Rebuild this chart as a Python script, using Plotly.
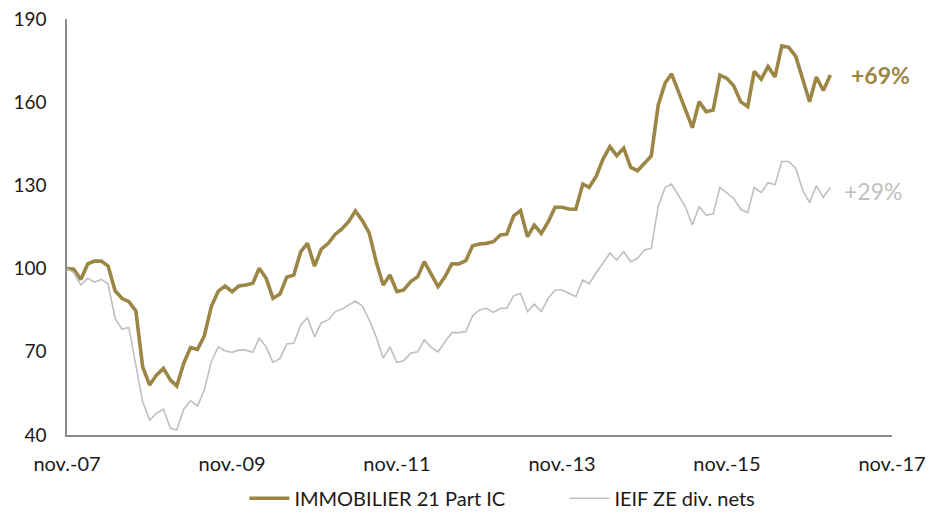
import pandas as pd
import plotly.graph_objects as go

start = "2007-11-01"
gold_name = "IMMOBILIER 21 Part IC"
grey_name = "IEIF ZE div. nets"

gold = [100, 99.8, 96.1, 101.7, 102.7, 102.7, 100.9, 92, 89.3, 88.1,
        84.7, 64.6, 58, 61.6, 64, 59.8, 57.7, 65.9, 71.5, 70.9,
        75.7, 86.3, 91.9, 93.7, 91.7, 93.7, 94.1, 94.7, 100.1, 96.5,
        89.3, 90.8, 96.9, 97.7, 106.1, 109.1, 100.9, 107, 109.1, 112.4,
        114.2, 116.9, 120.8, 117.3, 112.9, 102.5, 94.1, 97.7, 91.7, 92.3,
        95.3, 97.1, 102.5, 98.1, 93.5, 97.1, 101.7, 101.7, 102.9, 108.2,
        108.9, 109.1, 109.7, 112.1, 112.4, 119, 120.9, 111.5, 115.7, 112.7,
        116.9, 122.1, 122.1, 121.5, 121.4, 130.5, 129.3, 133.2, 139.4, 144,
        140.7, 143.4, 136.5, 135.3, 138.2, 140.6, 159, 167, 170.2, 163.8,
        157.2, 150.8, 160.2, 156.6, 157.2, 169.8, 168.6, 165.9, 160.2, 158.4,
        171.1, 168.3, 172.9, 169.1, 180.3, 179.8, 176.5, 168.6, 160.2, 169.1,
        164.2, 169.8]

grey = [100, 98.5, 94.1, 96.5, 95.1, 96.1, 94.5, 82.1, 78.2, 78.7,
        65, 52, 45.4, 47.8, 49.3, 42.4, 41.8, 49.3, 52.4, 50.5,
        56.2, 66.4, 71.8, 70.4, 69.8, 70.6, 70.6, 69.8, 74.9, 71.8,
        66.2, 67.6, 72.8, 73.1, 79.7, 82.3, 75.4, 80.5, 81.5, 84.5,
        85.3, 86.9, 88.3, 86.5, 81.5, 75.4, 67.7, 71.8, 66.1, 66.8,
        69.5, 70.0, 74.3, 71.6, 70.0, 73.6, 76.9, 76.9, 77.3, 83,
        85.1, 85.7, 84.2, 85.7, 85.7, 90.2, 91.1, 84.5, 87.2, 84.5,
        89.3, 92.3, 92.3, 91.1, 89.9, 95.9, 94.5, 98.5, 102, 105.6,
        103.1, 106.1, 102.5, 103.7, 106.7, 107.3, 122.6, 129.3, 130.5, 126.5,
        122.3, 115.7, 122.3, 119.3, 119.7, 129.3, 127.4, 125.3, 121.4, 120.2,
        129.3, 127.4, 131, 130.2, 138.6, 138.6, 136.2, 128.4, 123.8, 129.9,
        125.7, 129.3]

tick_dates = ["2007-11-01", "2009-11-01", "2011-11-01", "2013-11-01", "2015-11-01", "2017-11-01"]
tick_text = ["nov.-07", "nov.-09", "nov.-11", "nov.-13", "nov.-15", "nov.-17"]
y_ticks = [40, 70, 100, 130, 160, 190]
labels = ["+69%", "+29%"]

dates = pd.date_range(start, periods=len(gold), freq="MS")

GOLD = "#9B8645"
GREY = "#BFBFBF"
FONT = "Lato"
TXT = "#1a1a1a"

fig = go.Figure()
fig.add_trace(go.Scatter(x=dates, y=gold, mode="lines", name=gold_name,
                         line=dict(color=GOLD, width=3.6)))
fig.add_trace(go.Scatter(x=dates, y=grey, mode="lines", name=grey_name,
                         line=dict(color=GREY, width=1.6)))

fig.add_annotation(x=dates[-1], y=gold[-1], text="<b>" + labels[0] + "</b>",
                   showarrow=False, xanchor="left", xshift=19, yshift=0,
                   font=dict(family=FONT, size=23, color=GOLD))
fig.add_annotation(x=dates[-1], y=grey[-1], text=labels[1],
                   showarrow=False, xanchor="left", xshift=12, yshift=-4,
                   font=dict(family=FONT, size=23, color=GREY))

# page is offset by 8px (body margin), so the figure is 8px smaller
fig.update_layout(
    width=937, height=505,
    margin=dict(l=59, r=53, t=11, b=78, autoexpand=False),
    paper_bgcolor="white", plot_bgcolor="white",
    font=dict(family=FONT, size=20, color=TXT),
    showlegend=True,
    legend=dict(orientation="h", x=0.215, xanchor="left", y=-0.152, yanchor="middle",
                font=dict(family=FONT, size=20, color=TXT),
                entrywidth=265, entrywidthmode="pixels",
                itemwidth=40, tracegroupgap=0),
    xaxis=dict(range=[tick_dates[0], tick_dates[-1]], tickvals=tick_dates, ticktext=tick_text,
               showgrid=False, zeroline=False, showline=True, linecolor="#8C8C8C", linewidth=1.5,
               ticks="", ticklabelstandoff=10, automargin=False, ticklabeloverflow="allow",
               tickfont=dict(family=FONT, size=20, color=TXT)),
    yaxis=dict(range=[40, 190], tickvals=y_ticks, showgrid=False, zeroline=False,
               showline=True, linecolor="#8C8C8C", linewidth=1.5, ticks="",
               ticklabelstandoff=15, automargin=False, ticklabeloverflow="allow",
               tickfont=dict(family=FONT, size=19, color=TXT)),
)

fig.write_html("out.html")
